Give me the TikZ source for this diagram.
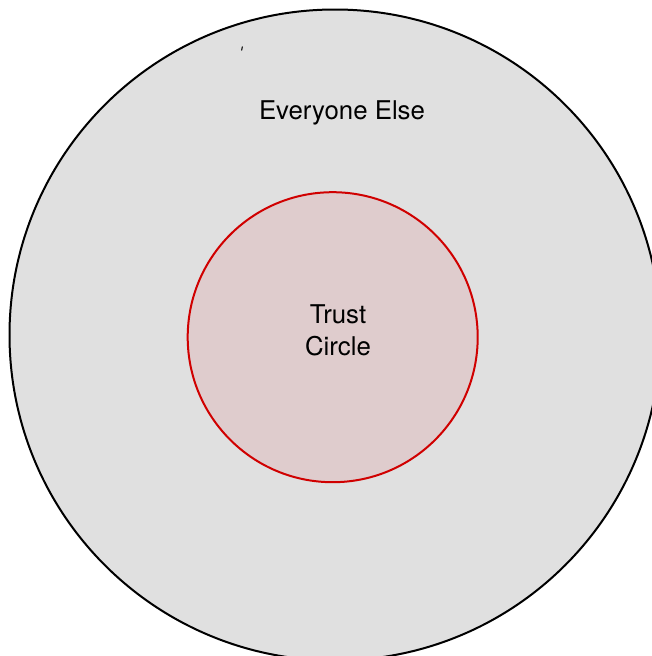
\documentclass[tikz,border=0pt]{standalone}
\usepackage{fontspec}
\setmainfont{TeX Gyre Heros}
\definecolor{outerfill}{HTML}{E0E0E0}
\definecolor{innerfill}{HTML}{DFCCCD}
\definecolor{innerline}{HTML}{D00000}
\begin{document}
\begin{tikzpicture}[x=1pt,y=-1pt,
  outerring/.style={draw=black,line width=2pt,fill=outerfill},
  innerring/.style={draw=innerline,line width=2pt,fill=innerfill},
  lbl/.style={font=\fontsize{25.8}{30}\selectfont,text=black,inner sep=0pt,anchor=base}]
\useasboundingbox (0,0) rectangle (652,656);
\clip (0,0) rectangle (652,656);
\fill[white] (0,0) rectangle (652,656);
\draw[outerring] (335,335) circle[radius=325.5];
\draw[innerring] (332.7,337.2) circle[radius=145];
\draw[black,line width=1pt] (242.4,46.5) -- (241.6,50.5);
\node[lbl] (everyone) at (342,119) {Everyone Else};
\node[lbl] (trustA) at (338,323.3) {Trust};
\node[lbl] (trustB) at (338,355) {Circle};
\end{tikzpicture}
\end{document}
